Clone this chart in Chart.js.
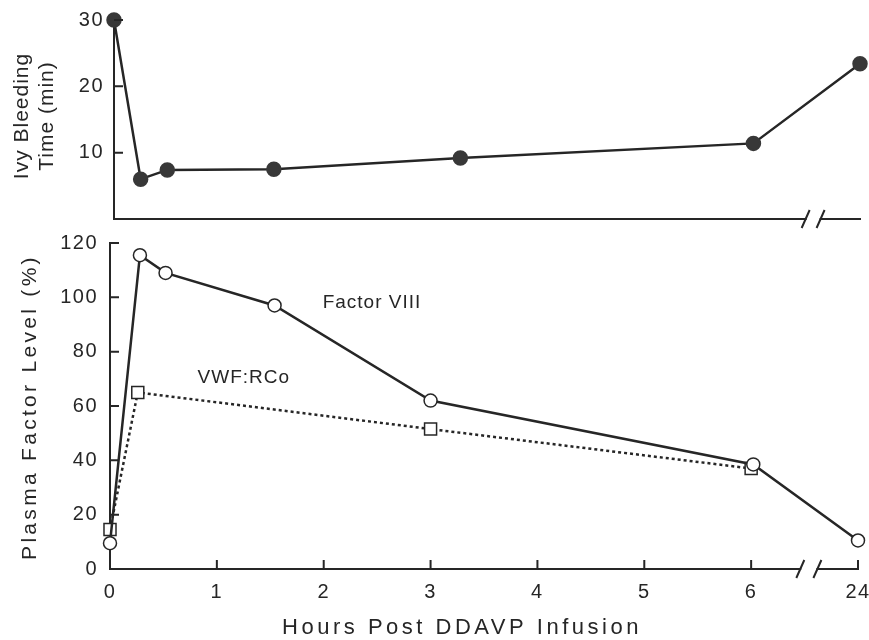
<!DOCTYPE html>
<html>
<head>
<meta charset="utf-8">
<script src="https://cdn.jsdelivr.net/npm/chart.js@4.4.1/dist/chart.umd.min.js"></script>
<style>
  body { margin: 0; background: #fff; width: 869px; height: 640px; overflow: hidden; position: relative; }
  canvas { position: absolute; left: 0; }
  #topChart { top: 0; }
  #bottomChart { top: 232px; }
</style>
</head>
<body>
<canvas id="topChart" width="869" height="232"></canvas>
<canvas id="bottomChart" width="869" height="408"></canvas>
<script>
// Ivy bleeding time (top panel)
const bleedHours = [0, 0.25, 0.5, 1.5, 3.25, 6, 24];
const bleedTime = [30, 6, 7.4, 7.5, 9.2, 11.4, 23.4];

// Plasma factor levels (bottom panel)
const factorHours = [0, 0.28, 0.52, 1.54, 3, 6.02, 24];
const factorVIII = [9.5, 115.5, 109, 97, 62, 38.5, 10.5];
const vwfHours = [0, 0.26, 3, 6];
const vwfRCo = [14.5, 65, 51.5, 37];

const hourTicks = [0, 1, 2, 3, 4, 5, 6, 24];

const INK = '#262626';
const FONT = '"Liberation Sans", Arial, Helvetica, sans-serif';
Chart.defaults.font.family = FONT;
Chart.defaults.color = INK;

// 24 h sits one unit past 6 h, after the axis break
const pos = h => h > 12 ? 7 : h;
const pts = (hours, vals) => hours.map((h, i) => ({ x: pos(h), y: vals[i] }));
const hourLabel = v => { const i = hourTicks.map(pos).indexOf(v); return i < 0 ? '' : hourTicks[i]; };

// keep the plot area where the layout padding puts it
const noOverhang = s => { s.paddingTop = 0; s.paddingBottom = 0; s.paddingLeft = 0; s.paddingRight = 0; };

const axisStyle = {
    id: 'axisStyle',
    beforeDraw(chart) { chart.ctx.letterSpacing = '1.5px'; },
    afterDraw(chart, args, opts) {
        const ctx = chart.ctx;
        const { x, y } = chart.scales;
        ctx.save();
        ctx.strokeStyle = INK;
        ctx.lineWidth = 2;
        // inward tick marks
        ctx.beginPath();
        y.ticks.forEach(t => {
            if (t.value === 0) return;
            const py = y.getPixelForValue(t.value);
            ctx.moveTo(y.right, py);
            ctx.lineTo(y.right + 9, py);
        });
        if (opts.xTicks) {
            x.ticks.forEach(t => {
                if (t.value === 0) return;
                const px = x.getPixelForValue(t.value);
                ctx.moveTo(px, x.top);
                ctx.lineTo(px, x.top - 9);
            });
        }
        ctx.stroke();
        // axis break
        const b0 = x.getPixelForValue(opts.brk[0]);
        const b1 = x.getPixelForValue(opts.brk[1]);
        const by = x.top;
        ctx.fillStyle = '#fff';
        ctx.fillRect(b0 + 1, by - 3, b1 - b0 - 2, 6);
        ctx.beginPath();
        [b0, b1].forEach(bx => { ctx.moveTo(bx - 4, by + 9); ctx.lineTo(bx + 4, by - 9); });
        ctx.stroke();
        // series labels
        ctx.fillStyle = INK;
        ctx.letterSpacing = '1px';
        ctx.textBaseline = 'middle';
        ctx.textAlign = 'left';
        ctx.font = '19px ' + FONT;
        (opts.notes || []).forEach(n => ctx.fillText(n.text, x.getPixelForValue(n.x), y.getPixelForValue(n.y)));
        // axis titles
        ctx.textAlign = 'center';
        (opts.titles || []).forEach(t => {
            ctx.save();
            ctx.translate(t.x, t.y);
            if (t.rot) ctx.rotate(-Math.PI / 2);
            ctx.font = t.size + 'px ' + FONT;
            ctx.letterSpacing = t.spacing + 'px';
            ctx.fillText(t.text, 0, 0);
            ctx.restore();
        });
        ctx.restore();
    }
};

const tickFont = { size: 20 };

new Chart(document.getElementById('topChart'), {
    type: 'line',
    data: {
        datasets: [{
            data: pts(bleedHours, bleedTime),
            borderColor: INK, borderWidth: 2.5,
            pointRadius: 6.5, pointBackgroundColor: '#383838', pointBorderColor: '#383838',
            clip: false
        }]
    },
    options: {
        responsive: false, animation: false, devicePixelRatio: 1,
        layout: { padding: { top: 20, right: 4, bottom: 13, left: 0 } },
        plugins: {
            legend: { display: false }, tooltip: { enabled: false },
            axisStyle: {
                xTicks: false, brk: [6.49, 6.63],
                titles: [
                    { text: 'Ivy Bleeding', x: 22, y: 116, rot: true, size: 21, spacing: 1 },
                    { text: 'Time (min)', x: 47, y: 116, rot: true, size: 21, spacing: 1 }
                ]
            }
        },
        scales: {
            x: {
                type: 'linear', min: 0, max: 7,
                ticks: { display: false },
                grid: { display: false, drawTicks: false },
                border: { color: INK, width: 2 },
                afterFit: s => { s.height = 0; noOverhang(s); }
            },
            y: {
                min: 0, max: 30,
                ticks: { stepSize: 10, font: tickFont, padding: 10, callback: v => v === 0 ? '' : v },
                grid: { display: false, drawTicks: false },
                border: { color: INK, width: 2 },
                afterFit: s => { s.width = 114; noOverhang(s); }
            }
        }
    },
    plugins: [axisStyle]
});

new Chart(document.getElementById('bottomChart'), {
    type: 'line',
    data: {
        datasets: [{
            label: 'Factor VIII',
            data: pts(factorHours, factorVIII),
            borderColor: INK, borderWidth: 2.5,
            pointStyle: 'circle', pointRadius: 6.5, pointBorderWidth: 1.5,
            pointBackgroundColor: '#fff', pointBorderColor: INK,
            clip: false
        }, {
            label: 'VWF:RCo',
            data: pts(vwfHours, vwfRCo),
            borderColor: INK, borderWidth: 2.5, borderDash: [3, 3],
            pointStyle: 'rect', pointRadius: 8.5, pointBorderWidth: 1.5,
            pointBackgroundColor: '#fff', pointBorderColor: INK,
            clip: false
        }]
    },
    options: {
        responsive: false, animation: false, devicePixelRatio: 1,
        layout: { padding: { top: 11, right: 11, bottom: 0, left: 0 } },
        plugins: {
            legend: { display: false }, tooltip: { enabled: false },
            axisStyle: {
                xTicks: true, brk: [6.46, 6.62],
                notes: [
                    { text: 'Factor VIII', x: 1.99, y: 98 },
                    { text: 'VWF:RCo', x: 0.82, y: 70.5 }
                ],
                titles: [
                    { text: 'Plasma Factor Level (%)', x: 30, y: 175, rot: true, size: 21, spacing: 3.3 },
                    { text: 'Hours Post DDAVP Infusion', x: 462, y: 396, rot: false, size: 22, spacing: 3.5 }
                ]
            }
        },
        scales: {
            x: {
                type: 'linear', min: 0, max: 7,
                ticks: { stepSize: 1, font: tickFont, padding: 11, maxRotation: 0, callback: hourLabel },
                grid: { display: false, drawTicks: false },
                border: { color: INK, width: 2 },
                afterFit: s => { s.height = 71; noOverhang(s); }
            },
            y: {
                min: 0, max: 120,
                ticks: { stepSize: 20, font: tickFont, padding: 12 },
                grid: { display: false, drawTicks: false },
                border: { color: INK, width: 2 },
                afterFit: s => { s.width = 110; noOverhang(s); }
            }
        }
    },
    plugins: [axisStyle]
});
</script>
</body>
</html>
